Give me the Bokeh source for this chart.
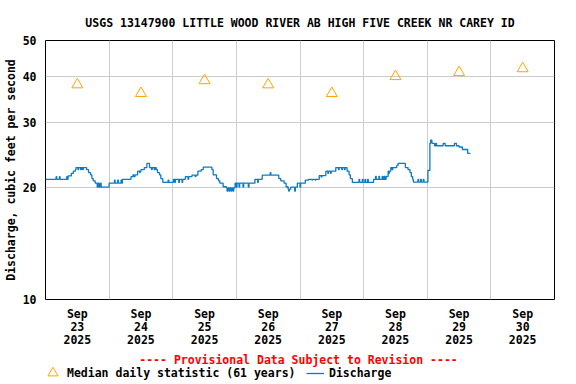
import math
from bokeh.plotting import figure
from bokeh.layouts import column
from bokeh.models import FixedTicker, Legend, LegendItem, Range1d, Label
from bokeh.embed import file_html
from bokeh.resources import INLINE

FONT = "DejaVu Sans Mono"
FS = "11.5px"

title_text = "USGS 13147900 LITTLE WOOD RIVER AB HIGH FIVE CREEK NR CAREY ID"
y_label = "Discharge, cubic feet per second"
provisional = "---- Provisional Data Subject to Revision ----"
legend_labels = ["Median daily statistic (61 years)", "Discharge"]

# x axis in hours since 2025-09-23 00:00
day_tick_hours = [12, 36, 60, 84, 108, 132, 156, 180]
day_tick_labels = ["Sep\n23\n2025", "Sep\n24\n2025", "Sep\n25\n2025", "Sep\n26\n2025",
                   "Sep\n27\n2025", "Sep\n28\n2025", "Sep\n29\n2025", "Sep\n30\n2025"]
midnight_hours = [24, 48, 72, 96, 120, 144, 168]
y_ticks = [10, 20, 30, 40, 50]

# median daily statistic (61 years), at noon of each day
median_hours = [12, 36, 60, 84, 108, 132, 156, 180]
median_cfs = [38, 36, 39, 38, 36, 40, 41, 42]

# discharge: change points (hour, cfs), value held until next change
disc_hours = [
    0.0, 4.0, 4.25, 5.25, 5.5, 8.0, 8.25, 8.5, 9.75, 10.5, 11.25, 11.5,
    12.25, 12.5, 13.25, 13.5, 14.0, 14.25, 15.5, 16.25, 17.0, 17.5, 18.0,
    18.75, 19.5, 19.75, 20.25, 20.75, 21.0, 24.0,
    26.0, 26.25, 27.25, 27.5, 28.5, 28.75, 29.0, 32.25, 33.0, 33.25, 33.75,
    34.75, 35.5, 35.75, 36.0, 37.25, 38.25, 39.25, 40.0, 40.25, 41.0, 41.25,
    41.75, 42.25, 43.0, 43.5, 44.25, 46.25, 46.5, 48.25,
    48.75, 49.0, 50.25, 50.5, 51.5, 51.75, 52.75, 53.75, 54.0, 55.25, 56.5,
    56.75, 57.5, 58.75, 59.5, 62.75, 63.25, 64.5, 65.25, 65.75, 67.0, 68.25,
    68.5, 68.75, 69.25, 69.5, 70.0, 70.25, 70.75, 71.0, 71.5,
    72.0, 72.25, 73.0, 73.25, 74.5, 74.75, 76.5, 76.75, 79.0, 80.0, 80.25,
    81.75, 84.75, 85.0, 88.0, 88.75, 90.0, 90.75, 91.5, 91.75, 92.0, 92.5,
    94.0, 94.25, 95.0,
    96.0, 96.25, 97.0, 98.0, 99.25, 100.5, 100.75, 101.75, 102.0, 103.25,
    104.0, 104.25, 105.75, 106.5, 106.75, 107.5, 107.75, 109.5, 110.5, 110.75,
    111.75, 112.0, 112.75, 113.0, 113.75, 114.5, 115.0, 115.75, 118.25, 118.5,
    119.5, 119.75,
    120.5, 120.75, 121.5, 121.75, 123.75, 124.5, 124.75, 125.75, 126.0, 127.0,
    127.25, 127.75, 128.0, 128.5, 129.25, 129.5, 129.75, 130.25, 130.75, 131.0,
    132.5, 133.0, 135.75, 136.75, 137.5, 138.0, 138.5, 138.75, 140.5, 140.75,
    141.5, 141.75, 142.5, 142.75, 144.25,
    145.0, 145.25, 145.75, 146.75, 147.25, 147.5, 150.0, 150.75, 154.25, 155.0,
    156.0, 157.25, 159.25, 160.25,
]
disc_cfs = [
    21.1, 21.45, 21.1, 21.45, 21.1, 21.45, 21.1, 21.55, 21.9, 22.2, 22.4, 22.7,
    22.4, 22.7, 22.4, 22.7, 22.4, 22.7, 22.4, 22.0, 21.7, 21.2, 20.9,
    20.6, 20.1, 20.6, 20.1, 20.6, 20.1, 20.6,
    21.0, 20.6, 21.0, 20.6, 21.0, 20.6, 21.1, 21.45, 21.7, 21.45, 21.7,
    22.2, 22.0, 22.2, 22.4, 22.7, 23.3, 22.7, 22.4, 22.7, 22.4, 22.7,
    22.4, 22.0, 21.7, 21.2, 20.7, 21.0, 20.7, 21.1,
    20.7, 21.1, 20.7, 21.1, 20.7, 21.1, 21.45, 21.1, 21.45, 21.65, 21.45,
    21.65, 22.2, 22.4, 22.75, 22.4, 21.7, 21.2, 20.9, 20.6, 20.15, 20.0,
    19.6, 20.0, 19.6, 20.0, 19.6, 20.0, 19.6, 20.0, 20.6,
    20.1, 20.6, 20.1, 20.6, 20.1, 20.6, 20.1, 20.6, 21.1, 20.7, 21.1,
    21.65, 22.0, 21.65, 21.2, 20.9, 20.6, 20.15, 19.85, 19.6, 19.85, 20.1,
    19.6, 20.1, 20.6,
    20.1, 20.6, 20.6, 21.0, 21.1, 21.0, 21.1, 21.0, 21.1, 21.6,
    21.4, 21.6, 22.2, 21.9, 22.2, 21.9, 22.2, 22.7, 22.4, 22.7,
    22.4, 22.7, 22.4, 22.7, 22.2, 21.7, 21.2, 20.7, 21.1, 20.7,
    21.1, 20.7,
    21.1, 20.7, 21.1, 20.7, 21.1, 21.5, 21.1, 21.5, 21.1, 21.5,
    21.1, 21.5, 21.1, 21.5, 22.2, 21.9, 22.2, 22.7, 22.4, 22.7,
    23.0, 23.3, 22.7, 22.4, 22.0, 21.45, 21.1, 20.75, 21.1, 20.75,
    21.1, 20.75, 21.1, 20.75, 22.3,
    26.4, 26.9, 26.4, 26.0, 26.4, 26.0, 26.4, 26.0, 26.4, 26.0,
    25.8, 25.4, 24.8, 24.8,
]

MED_COLOR = "#ffa500"
DISC_COLOR = "#0b7bc6"

p = figure(width=576, height=350, x_range=Range1d(0, 192), y_range=Range1d(10, 50),
           y_axis_type="log", output_backend="svg", toolbar_location=None,
           min_border_left=45, min_border_right=22, min_border_top=40, min_border_bottom=50)
p.background_fill_color = "white"
p.border_fill_color = "white"
p.outline_line_color = "black"
p.outline_line_width = 1
p.outline_line_alpha = 1

# title
p.title.text = title_text
p.title.align = "center"
p.title.text_font = FONT
p.title.text_font_style = "bold"
p.title.text_font_size = FS
p.title.text_color = "black"
p.title.standoff = 22

# x axis
p.xaxis.ticker = FixedTicker(ticks=day_tick_hours)
p.xaxis.major_label_overrides = {h: lbl for h, lbl in zip(day_tick_hours, day_tick_labels)}
p.xaxis.major_tick_line_color = None
p.xaxis.minor_tick_line_color = None
p.xaxis.axis_line_color = None
p.xaxis.major_label_standoff = 1
p.xaxis.major_label_text_font = FONT
p.xaxis.major_label_text_font_style = "bold"
p.xaxis.major_label_text_font_size = FS
p.xaxis.major_label_text_line_height = 0.95
p.xaxis.major_label_text_color = "black"

# y axis
p.yaxis.ticker = FixedTicker(ticks=y_ticks)
p.yaxis.major_label_overrides = {t: str(t) for t in y_ticks}
p.yaxis.major_tick_line_color = None
p.yaxis.minor_tick_line_color = None
p.yaxis.axis_line_color = None
p.yaxis.major_label_standoff = 3
p.yaxis.major_label_text_font = FONT
p.yaxis.major_label_text_font_style = "bold"
p.yaxis.major_label_text_font_size = FS
p.yaxis.major_label_text_color = "black"
p.yaxis.axis_label = y_label
p.yaxis.axis_label_standoff = 2
p.yaxis.axis_label_text_font = FONT
p.yaxis.axis_label_text_font_style = "bold"
p.yaxis.axis_label_text_font_size = FS
p.yaxis.axis_label_text_color = "black"

# grids
p.xgrid.ticker = FixedTicker(ticks=midnight_hours)
p.ygrid.ticker = FixedTicker(ticks=[20, 30, 40])
for g in (p.xgrid, p.ygrid):
    g.grid_line_color = "#cccccc"
    g.grid_line_width = 1

p.step(disc_hours, disc_cfs, mode="after", line_color=DISC_COLOR, line_width=1.3)
p.scatter(median_hours, median_cfs, marker="triangle", size=11,
          fill_color=None, line_color=MED_COLOR, line_width=1)

# footer strip: provisional note + legend (its frame is aligned with the main frame)
f = figure(width=576, height=34, x_range=Range1d(0, 1), y_range=Range1d(0, 1),
           output_backend="svg", toolbar_location=None, min_border=0,
           x_axis_location=None, y_axis_location=None)
f.grid.visible = False
f.outline_line_color = None
f.background_fill_color = "white"
f.border_fill_color = "white"

# legend keys (hidden renderers carrying the same data)
med_key = f.scatter(median_hours, median_cfs, marker="triangle", size=10, fill_color=None,
                    line_color=MED_COLOR, line_width=1, visible=False)
disc_key = f.line(disc_hours, disc_cfs, line_color=DISC_COLOR, line_width=1.3, visible=False)

common = dict(orientation="horizontal", padding=0, margin=0, spacing=0,
              border_line_color=None, background_fill_alpha=0,
              label_text_font=FONT, label_text_font_style="bold",
              label_text_font_size=FS, label_text_color="black")
leg1 = Legend(items=[LegendItem(label=legend_labels[0], renderers=[med_key])],
              location=(-5, -1), glyph_width=25, glyph_height=25, label_standoff=2,
              label_height=16, **common)
leg2 = Legend(items=[LegendItem(label=legend_labels[1], renderers=[disc_key])],
              location=(261, 3.5), glyph_width=18, glyph_height=16, label_standoff=5,
              label_height=16, **common)
f.add_layout(leg1)
f.add_layout(leg2)
f.add_layout(Label(x=253, y=25, x_units="screen", y_units="screen", text=provisional,
                   text_font=FONT, text_font_style="bold", text_font_size=FS,
                   text_color="#ff0000", text_align="center", text_baseline="middle"))

layout = column(p, f, spacing=0)
open("out.html", "w").write(file_html(layout, INLINE))
